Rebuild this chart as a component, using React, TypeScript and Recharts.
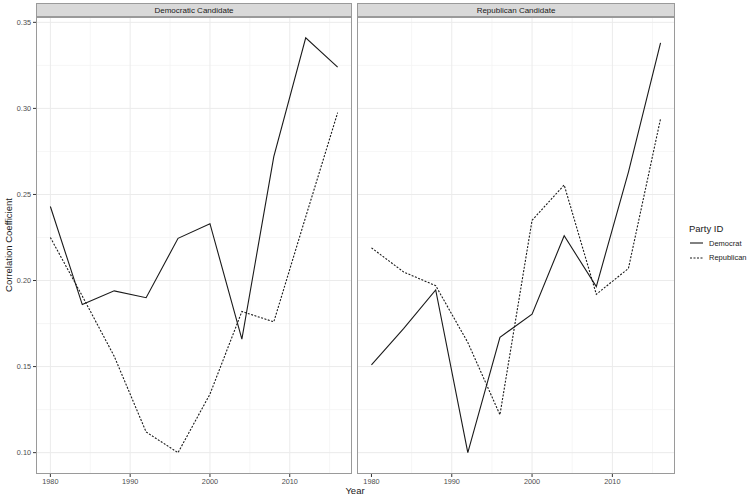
import React from 'react';
import { LineChart, Line, XAxis, YAxis, CartesianGrid } from 'recharts';

const years = [1980, 1984, 1988, 1992, 1996, 2000, 2004, 2008, 2012, 2016];

// Democratic Candidate panel
const demCandDemocrat = [0.243, 0.186, 0.194, 0.19, 0.2245, 0.233, 0.166, 0.272, 0.341, 0.324];
const demCandRepublican = [0.225, 0.191, 0.156, 0.112, 0.1, 0.134, 0.182, 0.176, 0.237, 0.2975];

// Republican Candidate panel
const repCandDemocrat = [0.151, 0.172, 0.1945, 0.1, 0.167, 0.1805, 0.226, 0.1965, 0.263, 0.338];
const repCandRepublican = [0.219, 0.205, 0.197, 0.164, 0.122, 0.235, 0.2555, 0.192, 0.207, 0.294];

const xTicks = [1980, 1990, 2000, 2010];
const xMinor = [1985, 1995, 2005, 2015];
const yTicks = [0.1, 0.15, 0.2, 0.25, 0.3, 0.35];
const yMinor = [0.125, 0.175, 0.225, 0.275, 0.325];

const panelTitles = ['Democratic Candidate', 'Republican Candidate'];
const legendItems = [
  { name: 'Democrat', dash: undefined },
  { name: 'Republican', dash: '2 1.5' },
];

const FONT = '"Liberation Sans", Arial, sans-serif';
const X_DOMAIN = [1978.2, 2017.8];
const Y_DOMAIN = [0.0876, 0.3531];
const PLOT_TOP = 17;
const PLOT_BOTTOM = 474;

const buildRows = (dem: number[], rep: number[]) =>
  years.map((year, i) => ({ year, Democrat: dem[i], Republican: rep[i] }));

interface PanelProps {
  title: string;
  rows: { year: number; Democrat: number; Republican: number }[];
  left: number;
  width: number;
  showY: boolean;
}

const Panel = ({ title, rows, left, width, showY }: PanelProps) => {
  const yWidth = showY ? 36 : 0;
  const plotLeft = left + yWidth;
  const plotWidth = width - yWidth;
  return (
    <>
      <div style={{ position: 'absolute', left, top: 0 }}>
        <LineChart
          width={width}
          height={496}
          data={rows}
          margin={{ top: PLOT_TOP, right: 0, bottom: 0, left: 0 }}
        >
          <CartesianGrid
            stroke="#F4F4F4"
            strokeWidth={0.8}
            verticalValues={xMinor}
            horizontalValues={yMinor}
          />
          <CartesianGrid
            stroke="#EBEBEB"
            strokeWidth={1}
            verticalValues={xTicks}
            horizontalValues={yTicks}
          />
          <XAxis
            dataKey="year"
            type="number"
            domain={X_DOMAIN}
            ticks={xTicks}
            allowDataOverflow
            height={496 - PLOT_BOTTOM}
            axisLine={false}
            tickLine={{ stroke: '#333333' }}
            tickSize={3}
            tickMargin={1.5}
            tick={{ fontSize: 7.3, fill: '#4D4D4D', fontFamily: FONT }}
          />
          <YAxis
            type="number"
            domain={Y_DOMAIN}
            ticks={yTicks}
            allowDataOverflow
            hide={!showY}
            width={yWidth}
            axisLine={false}
            tickLine={{ stroke: '#333333' }}
            tickSize={3}
            tickMargin={2}
            tickFormatter={(v: number) => v.toFixed(2)}
            tick={{ fontSize: 7.3, fill: '#4D4D4D', fontFamily: FONT }}
          />
          <Line
            dataKey="Democrat"
            stroke="#1A1A1A"
            strokeWidth={1.1}
            dot={false}
            isAnimationActive={false}
          />
          <Line
            dataKey="Republican"
            stroke="#1A1A1A"
            strokeWidth={1.1}
            strokeDasharray="2 1.5"
            dot={false}
            isAnimationActive={false}
          />
        </LineChart>
      </div>
      {/* facet strip */}
      <div
        style={{
          position: 'absolute',
          left: plotLeft,
          top: 3,
          width: plotWidth,
          height: PLOT_TOP - 3,
          boxSizing: 'border-box',
          background: '#D9D9D9',
          border: '1px solid #9A9A9A',
          font: `8px ${FONT}`,
          color: '#1A1A1A',
          display: 'flex',
          alignItems: 'center',
          justifyContent: 'center',
          whiteSpace: 'nowrap',
        }}
      >
        {title}
      </div>
      {/* panel border */}
      <div
        style={{
          position: 'absolute',
          left: plotLeft,
          top: PLOT_TOP,
          width: plotWidth,
          height: PLOT_BOTTOM - PLOT_TOP,
          boxSizing: 'border-box',
          border: '1.2px solid #9A9A9A',
          pointerEvents: 'none',
        }}
      />
    </>
  );
};

const App = () => {
  return (
    <div
      style={{
        position: 'fixed',
        left: 0,
        top: 0,
        width: 750,
        height: 496,
        background: '#FFFFFF',
        fontFamily: FONT,
      }}
    >
      <Panel
        title={panelTitles[0]}
        rows={buildRows(demCandDemocrat, demCandRepublican)}
        left={0}
        width={352}
        showY
      />
      <Panel
        title={panelTitles[1]}
        rows={buildRows(repCandDemocrat, repCandRepublican)}
        left={357}
        width={318}
        showY={false}
      />
      {/* axis titles */}
      <svg
        width={750}
        height={496}
        style={{ position: 'absolute', left: 0, top: 0, pointerEvents: 'none' }}
      >
        <text
          x={355}
          y={494}
          textAnchor="middle"
          fontSize={9.5}
          fill="#1A1A1A"
          fontFamily={FONT}
        >
          Year
        </text>
        <text
          transform="translate(11.5, 245) rotate(-90)"
          textAnchor="middle"
          fontSize={9.5}
          fill="#1A1A1A"
          fontFamily={FONT}
        >
          Correlation Coefficient
        </text>
      </svg>
      {/* legend */}
      <div
        style={{
          position: 'absolute',
          left: 689,
          top: 222,
          width: 61,
          color: '#1A1A1A',
          whiteSpace: 'nowrap',
        }}
      >
        <div style={{ fontSize: 9.5, lineHeight: '14px' }}>Party ID</div>
        {legendItems.map((item) => (
          <div
            key={item.name}
            style={{ display: 'flex', alignItems: 'center', height: 14.5, fontSize: 7.5 }}
          >
            <svg width={17} height={10} style={{ marginRight: 3, flexShrink: 0 }}>
              <line
                x1={1}
                x2={14}
                y1={5}
                y2={5}
                stroke="#1A1A1A"
                strokeWidth={1.1}
                strokeDasharray={item.dash}
              />
            </svg>
            {item.name}
          </div>
        ))}
      </div>
    </div>
  );
};

export default App;
